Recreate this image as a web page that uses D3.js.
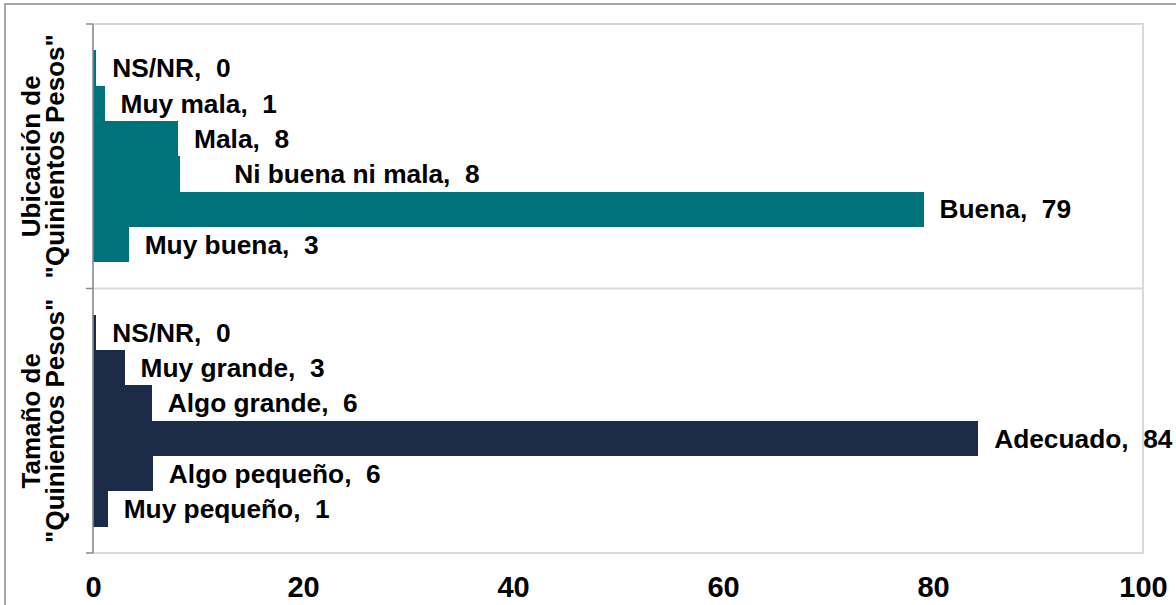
<!DOCTYPE html>
<html>
<head>
<meta charset="utf-8">
<script src="https://cdn.jsdelivr.net/npm/d3@7"></script>
<style>
  html, body { margin: 0; padding: 0; background: #fff; }
  svg { display: block; font-family: "Liberation Sans", Arial, sans-serif; }
  text { white-space: pre; }
</style>
</head>
<body>
<svg id="chart" width="1176" height="605"></svg>
<script>
// ---- data ----
const groups = ["ubicacion", "tamano"];
const groupTitles = [["Ubicación de", "\"Quinientos Pesos\""], ["Tamaño de", "\"Quinientos Pesos\""]];
const ubicacionCategories = ["NS/NR", "Muy mala", "Mala", "Ni buena ni mala", "Buena", "Muy buena"];
const ubicacionValues = [0.3, 1.1, 8.1, 8.3, 79.1, 3.4];
const tamanoCategories = ["NS/NR", "Muy grande", "Algo grande", "Adecuado", "Algo pequeño", "Muy pequeño"];
const tamanoValues = [0.3, 3.0, 5.6, 84.3, 5.7, 1.4];
const xTicks = [0, 20, 40, 60, 80, 100];

// ---- styles ----
const groupColors = ["#00727A", "#1B2B48"];
const labelNudge = { "Ni buena ni mala": 38 };

const svg = d3.select("#chart");
const mLeft = 93, mRight = 1143, mTop = 24, mBottom = 553;

// outer frame
svg.append("rect").attr("x", 5).attr("y", 4).attr("width", 1200).attr("height", 700)
  .attr("fill", "none").attr("stroke", "#8a8a8a").attr("stroke-width", 1.5);

const x = d3.scaleLinear().domain([0, 100]).range([mLeft, mRight]);
const gy = d3.scaleBand().domain(groups).range([mTop, mBottom]).padding(0);

// plot border (light)
svg.append("rect").attr("x", mLeft).attr("y", mTop).attr("width", mRight - mLeft).attr("height", mBottom - mTop)
  .attr("fill", "none").attr("stroke", "#d9d9d9").attr("stroke-width", 2);
// group divider lines
groups.slice(1).forEach(g => {
  svg.append("line").attr("x1", mLeft).attr("x2", mRight).attr("y1", gy(g)).attr("y2", gy(g))
    .attr("stroke", "#d9d9d9").attr("stroke-width", 2);
});

const datasets = [
  { cats: ubicacionCategories, vals: ubicacionValues },
  { cats: tamanoCategories, vals: tamanoValues }
];

datasets.forEach((ds, gi) => {
  const g0 = gy(groups[gi]);
  const y = d3.scaleBand().domain(ds.cats).range([g0, g0 + gy.bandwidth()])
    .paddingInner(0).paddingOuter(0.75);
  const data = ds.cats.map((c, i) => ({ c, v: ds.vals[i] }));
  svg.append("g").selectAll("rect").data(data).join("rect")
    .attr("x", x(0)).attr("y", d => y(d.c))
    .attr("width", d => x(d.v) - x(0)).attr("height", y.bandwidth())
    .attr("fill", groupColors[gi]).attr("shape-rendering", "crispEdges");
  svg.append("g").selectAll("text").data(data).join("text")
    .attr("x", d => x(d.v) + 16 + (labelNudge[d.c] || 0))
    .attr("y", d => y(d.c) + y.bandwidth() / 2)
    .attr("dy", "0.35em")
    .attr("font-size", 26.3).attr("font-weight", "bold").attr("fill", "#000")
    .text(d => d.c + ",  " + Math.round(d.v));

  // group title
  const cy = g0 + gy.bandwidth() / 2;
  const t = svg.append("text")
    .attr("transform", `translate(0,${cy}) rotate(-90)`)
    .attr("text-anchor", "middle").attr("font-size", 26).attr("font-weight", "bold").attr("fill", "#000");
  groupTitles[gi].forEach((line, li) => {
    t.append("tspan").attr("x", 0).attr("y", 40 + li * 24).text(line);
  });
});

// left axis line + ticks at group boundaries
svg.append("line").attr("x1", mLeft).attr("x2", mLeft).attr("y1", mTop).attr("y2", mBottom)
  .attr("stroke", "#8c8c8c").attr("stroke-width", 1.5);
[mTop, ...groups.slice(1).map(g => gy(g)), mBottom].forEach(yy => {
  svg.append("line").attr("x1", mLeft - 7).attr("x2", mLeft).attr("y1", yy).attr("y2", yy)
    .attr("stroke", "#8c8c8c").attr("stroke-width", 1.5);
});

// x axis tick labels
const xAxis = d3.axisBottom(x).tickValues(xTicks).tickSize(0).tickPadding(0).tickFormat(d3.format("d"));
const xg = svg.append("g").attr("transform", `translate(0,${mBottom})`).call(xAxis);
xg.select(".domain").remove();
xg.selectAll("text").attr("font-size", 29).attr("font-weight", "bold").attr("fill", "#000")
  .attr("font-family", "Liberation Sans, Arial, sans-serif")
  .attr("dy", null).attr("y", 44);
</script>
</body>
</html>
